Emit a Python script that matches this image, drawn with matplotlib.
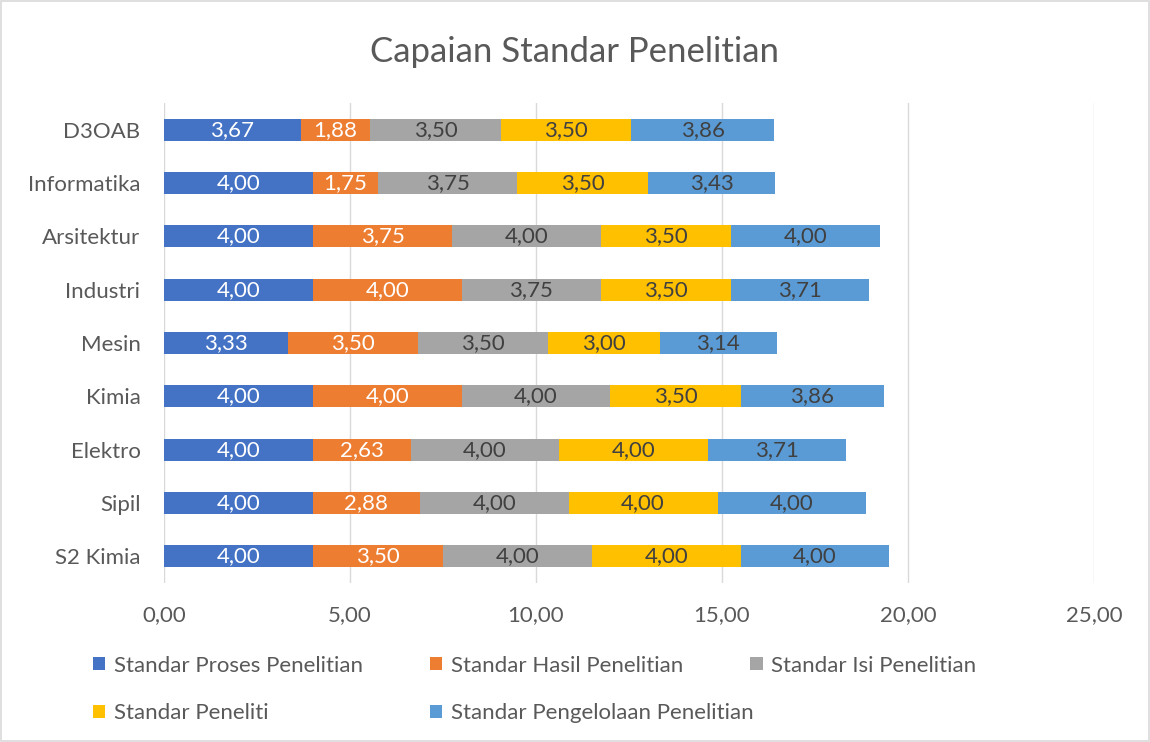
import matplotlib.pyplot as plt
from matplotlib.patches import Rectangle

plt.rcParams['font.family'] = ['Lato', 'DejaVu Sans']

programs = ['D3OAB', 'Informatika', 'Arsitektur', 'Industri', 'Mesin',
            'Kimia', 'Elektro', 'Sipil', 'S2 Kimia']
series_names = ['Standar Proses Penelitian', 'Standar Hasil Penelitian',
                'Standar Isi Penelitian', 'Standar Peneliti',
                'Standar Pengelolaan Penelitian']
proses = [3.67, 4.00, 4.00, 4.00, 3.33, 4.00, 4.00, 4.00, 4.00]
hasil = [1.88, 1.75, 3.75, 4.00, 3.50, 4.00, 2.63, 2.88, 3.50]
isi = [3.50, 3.75, 4.00, 3.75, 3.50, 4.00, 4.00, 4.00, 4.00]
peneliti = [3.50, 3.50, 3.50, 3.50, 3.00, 3.50, 4.00, 4.00, 4.00]
pengelolaan = [3.86, 3.43, 4.00, 3.71, 3.14, 3.86, 3.71, 4.00, 4.00]
x_ticks = [0, 5, 10, 15, 20, 25]

colors = ['#4472C4', '#ED7D31', '#A5A5A5', '#FFC000', '#5B9BD5']
label_colors = ['white', 'white', '#404040', '#404040', '#404040']
text_gray = '#595959'

fig = plt.figure(figsize=(11.5, 7.42), dpi=100)
fig.patches.append(Rectangle((0.001, 0.001), 0.998, 0.998, transform=fig.transFigure,
                             fill=False, edgecolor='#D9D9D9', linewidth=1.2))
ax = fig.add_axes([0.1426, 0.2143, 0.8087, 0.6469])

y = list(range(len(programs)))
left = [0.0] * len(programs)
handles = []
for vals, name, col, lcol in zip([proses, hasil, isi, peneliti, pengelolaan],
                                 series_names, colors, label_colors):
    bars = ax.barh(y, vals, left=left, height=0.41, color=col, label=name, zorder=3)
    handles.append(bars)
    ax.bar_label(bars, labels=[f'{v:.2f}'.replace('.', ',') for v in vals],
                 label_type='center', color=lcol, fontsize=16)
    left = [a + b for a, b in zip(left, vals)]

ax.set_ylim(len(programs) - 0.5, -0.5)
ax.set_yticks(y)
ax.set_yticklabels(programs)
ax.set_xlim(0, 25)
ax.set_xticks(x_ticks)
ax.set_xticklabels([f'{t:.2f}'.replace('.', ',') for t in x_ticks])
ax.tick_params(axis='both', length=0, labelsize=16, colors=text_gray)
ax.tick_params(axis='x', pad=16)
ax.tick_params(axis='y', pad=17)
ax.grid(axis='x', color='#D9D9D9', linewidth=1, zorder=0)
for s in ax.spines.values():
    s.set_visible(False)

fig.text(0.5, 0.93, 'Capaian Standar Penelitian', ha='center', va='center',
         fontsize=25, color=text_gray)

legend_pos = [(0.0805, 0.103), (0.3735, 0.103), (0.6525, 0.103),
              (0.0805, 0.039), (0.3735, 0.039)]
for h, name, pos in zip(handles, series_names, legend_pos):
    fig.legend([h], [name], loc='center left', bbox_to_anchor=pos, frameon=False,
               fontsize=16, labelcolor=text_gray, handlelength=0.55, handleheight=0.55,
               handletextpad=0.4, borderpad=0, borderaxespad=0)

fig.savefig('out.png', dpi=100)
